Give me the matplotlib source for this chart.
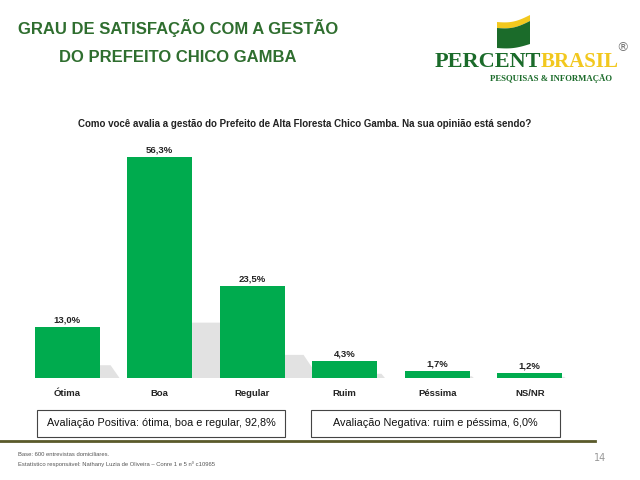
import numpy as np
import matplotlib.pyplot as plt
from matplotlib.patches import Polygon, Rectangle

# data
categories = ["Ótima", "Boa", "Regular", "Ruim", "Péssima", "NS/NR"]
values = [13.0, 56.3, 23.5, 4.3, 1.7, 1.2]
value_labels = ["13,0%", "56,3%", "23,5%", "4,3%", "1,7%", "1,2%"]

title_lines = ["GRAU DE SATISFAÇÃO COM A GESTÃO", "DO PREFEITO CHICO GAMBA"]
question = "Como você avalia a gestão do Prefeito de Alta Floresta Chico Gamba. Na sua opinião está sendo?"
positive_text = "Avaliação Positiva: ótima, boa e regular, 92,8%"
negative_text = "Avaliação Negativa: ruim e péssima, 6,0%"
footer_lines = ["Base: 600 entrevistas domiciliares.",
                "Estatístico responsável: Nathany Luzia de Oliveira – Conre 1 e 5 nº c10965"]

W, H = 640, 480
green_bar = "#00ab4e"
title_green = "#2f6e2f"
logo_green = "#1b6b2a"
logo_yellow = "#f2c81e"
sans = ["Liberation Sans", "DejaVu Sans"]
serif = ["Liberation Serif", "DejaVu Serif"]

fig = plt.figure(figsize=(6.4, 4.8), dpi=100)
fig.patch.set_facecolor("white")


def fx(px):
    return px / W


def fy(py):
    return 1 - py / H


# title
fig.text(fx(178), fy(28), title_lines[0], ha="center", va="center",
         fontsize=12, fontweight="bold", color=title_green, family=sans)
fig.text(fx(178), fy(57), title_lines[1], ha="center", va="center",
         fontsize=12, fontweight="bold", color=title_green, family=sans)

# logo: flag
t = np.linspace(0, 1, 30)
fx0, fx1 = 497, 530
xs = fx0 + (fx1 - fx0) * t
top = 22 - 7 * t + 3 * np.sin(np.pi * t)
band = top + 6
bottom = 48 - 4 * t + 2 * np.sin(np.pi * t)
yellow_poly = np.column_stack([np.r_[xs, xs[::-1]], np.r_[top, band[::-1]]])
green_poly = np.column_stack([np.r_[xs, xs[::-1]], np.r_[band, bottom[::-1]]])
for poly, col in [(yellow_poly, logo_yellow), (green_poly, logo_green)]:
    fig.patches.append(Polygon(np.column_stack([fx(poly[:, 0]), fy(poly[:, 1])]),
                               closed=True, transform=fig.transFigure,
                               facecolor=col, edgecolor="none"))
fig.text(fx(541), fy(62), "PERCENT", ha="right", va="center", fontsize=16,
         fontweight="bold", color=logo_green, family=serif)
fig.text(fx(541), fy(62), "BRASIL", ha="left", va="center", fontsize=15,
         fontweight="bold", color=logo_yellow, family=serif)
fig.text(fx(622), fy(48), "®", ha="center", va="center", fontsize=9, color="#777777")
fig.text(fx(612), fy(79), "PESQUISAS & INFORMAÇÃO", ha="right", va="center",
         fontsize=6.3, fontweight="bold", color=logo_green, family=serif)

# question
fig.text(fx(305), fy(124), question, ha="center", va="center", fontsize=7,
         fontweight="bold", color="#222222", family=sans)

# bars
ax = fig.add_axes([fx(21), fy(378), fx(576) - fx(21), (378 - 142) / H])
x = np.arange(len(categories))
width = 0.7

# soft shadows behind bars
for xi, v in zip(x, values):
    right = xi + width / 2
    reach = 0.015 * v + 0.02
    pts = [(right, 0), (right, v * 0.25), (right + reach * 0.55, v * 0.25),
           (right + reach, 0)]
    ax.add_patch(Polygon(pts, closed=True, facecolor="#e2e2e2",
                         edgecolor="none", zorder=1))

ax.bar(x, values, width=width, color=green_bar, zorder=2)
for xi, v, lab in zip(x, values, value_labels):
    ax.text(xi, v + 0.6, lab, ha="center", va="bottom", fontsize=6.8,
            fontweight="bold", color="#222222", family=sans)

ax.set_xlim(-0.5, len(categories) - 0.5)
ax.set_ylim(0, 60)
ax.set_xticks(x)
ax.set_xticklabels(categories, fontsize=6.8, fontweight="bold", color="#222222",
                   family=sans)
ax.tick_params(axis="x", length=0, pad=8)
ax.set_yticks([])
for s in ax.spines.values():
    s.set_visible(False)

# summary boxes
for (x0, x1), txt in [((37, 285), positive_text), ((311, 560), negative_text)]:
    fig.patches.append(Rectangle((fx(x0), fy(437)), fx(x1 - x0), (437 - 410) / H,
                                 transform=fig.transFigure, facecolor="white",
                                 edgecolor="#444444", linewidth=0.8))
    fig.text(fx((x0 + x1) / 2), fy(423.5), txt, ha="center", va="center",
             fontsize=7.8, color="#111111", family=sans)

# footer
fig.add_artist(plt.Line2D([0, fx(595)], [fy(441), fy(441)], transform=fig.transFigure,
                          color="#5a5a2a", linewidth=2))
fig.text(fx(18), fy(455), footer_lines[0], ha="left", va="center", fontsize=4.2,
         color="#555555", family=sans)
fig.text(fx(18), fy(464), footer_lines[1], ha="left", va="center", fontsize=4.2,
         color="#555555", family=sans)
fig.text(fx(600), fy(458), "14", ha="center", va="center", fontsize=7, color="#999999")

fig.savefig("out.png", dpi=100, facecolor="white")
